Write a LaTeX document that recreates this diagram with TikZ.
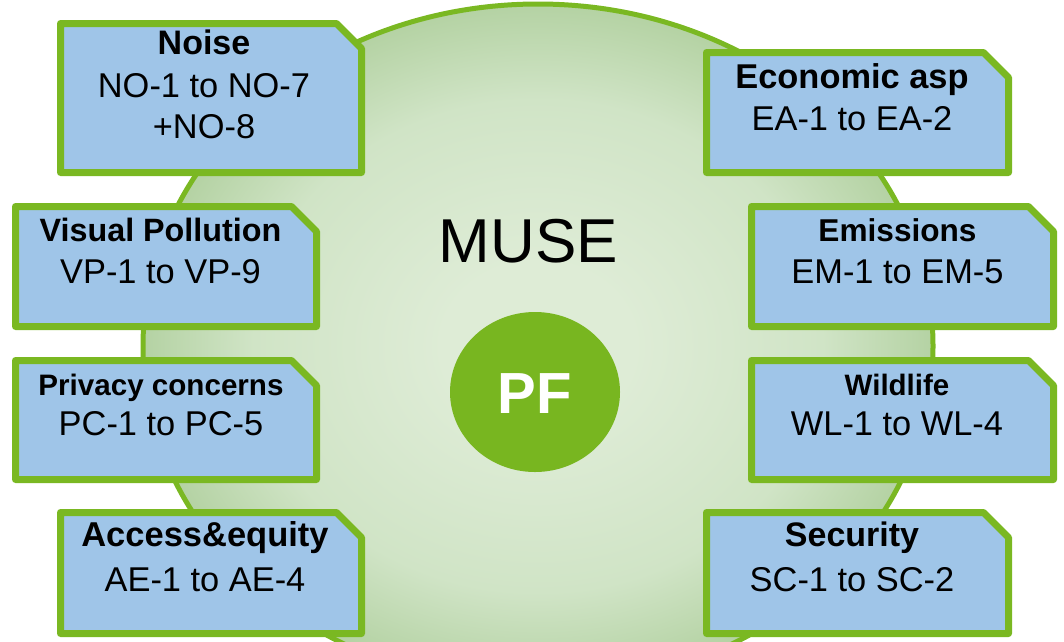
\documentclass[tikz,border=0pt]{standalone}
\usepackage{fontspec}
\setmainfont{Liberation Sans}
\definecolor{boxblue}{RGB}{159,197,232}
\definecolor{leaf}{RGB}{122,184,34}
\definecolor{musein}{RGB}{222,236,214}
\definecolor{musemid}{RGB}{208,228,198}
\definecolor{museout}{RGB}{180,210,163}
\definecolor{pfgreen}{RGB}{120,182,32}
\pgfdeclareradialshading{musefade}{\pgfpointorigin}{color(0bp)=(musein); color(6bp)=(musein); color(18bp)=(musemid); color(25bp)=(museout); color(50bp)=(museout)}
\tikzset{
  cutbox/.style={draw=leaf, fill=boxblue, line width=7pt, line join=round},
  boxtitle/.style={anchor=base, inner sep=0pt, font=\bfseries\fontsize{#1}{#1}\selectfont},
  boxbody/.style={anchor=base, inner sep=0pt, font=\fontsize{34.4}{40}\selectfont},
}
\newcommand\cbox[4]{\draw[cutbox] (#1,#2) -- ({#3-25},#2) -- (#3,{#2+25}) -- (#3,#4) -- (#1,#4) -- cycle;}
\begin{document}
\begin{tikzpicture}[x=1pt,y=-1pt]
\useasboundingbox (0,0) rectangle (1064,641);
\clip (0,0) rectangle (1064,641);
% big MUSE disc
\shade[shading=musefade] (538,346) ellipse [x radius=395, y radius=342];
\draw[leaf, line width=5pt] (538,346) ellipse [x radius=395, y radius=342];
\node[inner sep=0pt, anchor=base, font=\fontsize{62}{62}\selectfont] (muse) at (528.5,262.7) {MUSE};
% PF disc
\fill[pfgreen] (535,392) ellipse [x radius=85, y radius=80];
\node[inner sep=0pt, anchor=base, text=white, font=\bfseries\fontsize{58}{58}\selectfont] (pf) at (535,413) {PF};
% boxes
\cbox{60.5}{23.5}{361.5}{172.5}
\cbox{706.5}{52.5}{1008.5}{172.5}
\cbox{15.5}{206.5}{316.5}{326.5}
\cbox{15.5}{360.5}{316.5}{479.5}
\cbox{751.5}{206.5}{1053.5}{326.5}
\cbox{751.5}{360.5}{1053.5}{479.5}
\cbox{60.5}{512.5}{361.5}{633.5}
\cbox{706.5}{512.5}{1008.5}{633.5}
% texts
\node[boxtitle=34] (noT) at (204,54) {Noise};
\node[boxbody] (noA) at (204,97) {NO-1 to NO-7};
\node[boxbody] (noB) at (204,138) {+NO-8};
\node[boxtitle=34.4] (eaT) at (852,88) {Economic asp};
\node[boxbody] (eaA) at (852,130) {EA-1 to EA-2};
\node[boxtitle=32.3] (vpT) at (160.5,241.7) {Visual Pollution};
\node[boxbody] (vpA) at (160.5,283) {VP-1 to VP-9};
\node[boxtitle=29.6] (pcT) at (161,395) {Privacy concerns};
\node[boxbody] (pcA) at (161,435) {PC-1 to PC-5};
\node[boxtitle=31.6] (emT) at (897.5,241.7) {Emissions};
\node[boxbody] (emA) at (897.5,283) {EM-1 to EM-5};
\node[boxtitle=29.5] (wlT) at (897,395) {Wildlife};
\node[boxbody] (wlA) at (897,435) {WL-1 to WL-4};
\node[boxtitle=34.5] (aeT) at (205,546.7) {Access\&equity};
\node[boxbody] (aeA) at (205,591.7) {AE-1 to AE-4};
\node[boxtitle=34] (scT) at (852,546.7) {Security};
\node[boxbody] (scA) at (852,591.7) {SC-1 to SC-2};
\end{tikzpicture}
\end{document}
